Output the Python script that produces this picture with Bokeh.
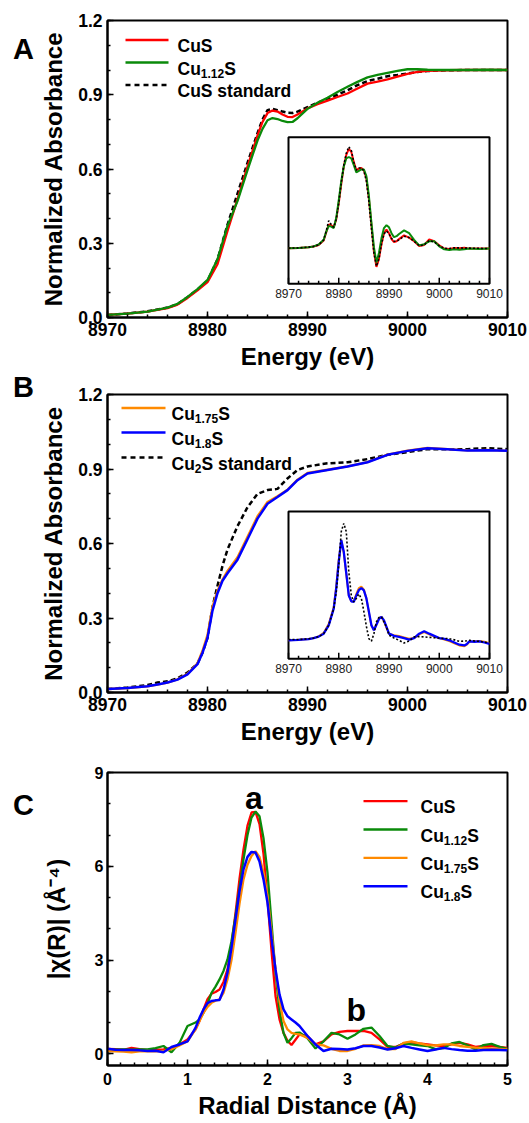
from bokeh.plotting import figure
from bokeh.models import Range1d, FixedTicker, NumeralTickFormatter, Label
from bokeh.layouts import column, row
from bokeh.core.properties import value
from bokeh.embed import file_html
from bokeh.resources import INLINE

FONT = "Liberation Sans"

# ---------------- Panel A: XANES ----------------
energy_A = [8970, 8972, 8974, 8976, 8977, 8978, 8979, 8980, 8981, 8982,
            8983, 8984, 8985, 8985.5, 8986, 8986.5, 8987, 8987.5, 8988, 8988.5,
            8989, 8990, 8991, 8992, 8993, 8994, 8995, 8996, 8997, 8998,
            8999, 9000, 9001, 9002, 9004, 9006, 9008, 9010]
cus_A = [0.011, 0.016, 0.024, 0.038, 0.052, 0.079, 0.110, 0.143, 0.215, 0.350,
         0.478, 0.610, 0.735, 0.790, 0.826, 0.836, 0.832, 0.820, 0.811, 0.810,
         0.820, 0.845, 0.862, 0.876, 0.891, 0.905, 0.925, 0.945, 0.953, 0.962,
         0.973, 0.984, 0.992, 0.997, 0.999, 1.0, 1.0, 1.0]
cu112s_A = [0.011, 0.016, 0.024, 0.040, 0.055, 0.083, 0.115, 0.152, 0.235, 0.370,
            0.470, 0.595, 0.715, 0.762, 0.797, 0.806, 0.802, 0.794, 0.789, 0.790,
            0.805, 0.843, 0.868, 0.888, 0.911, 0.932, 0.952, 0.970, 0.980, 0.988,
            0.996, 1.003, 1.003, 1.001, 1.0, 1.0, 1.001, 1.0]
cus_std_A = [0.010, 0.016, 0.025, 0.040, 0.054, 0.082, 0.113, 0.148, 0.235, 0.375,
             0.500, 0.625, 0.745, 0.800, 0.838, 0.843, 0.838, 0.832, 0.827, 0.826,
             0.832, 0.850, 0.868, 0.884, 0.900, 0.918, 0.939, 0.955, 0.965, 0.975,
             0.980, 0.986, 0.992, 0.996, 0.999, 1.0, 1.0, 1.0]

# inset A (derivative, arbitrary units)
energy_dA = [8970, 8972, 8974, 8975, 8976, 8977, 8977.5, 8978, 8978.5, 8979,
             8979.5, 8980, 8980.5, 8981, 8981.5, 8982, 8982.5, 8983, 8983.5, 8984,
             8984.5, 8985, 8985.5, 8986, 8986.5, 8987, 8987.5, 8988, 8988.5, 8989,
             8989.5, 8990, 8990.5, 8991, 8991.5, 8992, 8993, 8994, 8995, 8996,
             8997, 8998, 8999, 9000, 9001, 9002, 9003, 9004, 9005, 9006, 9008, 9010]
cus_dA = [0.243, 0.245, 0.25, 0.255, 0.265, 0.295, 0.35, 0.405, 0.40, 0.385,
          0.44, 0.55, 0.68, 0.80, 0.88, 0.92, 0.90, 0.83, 0.775, 0.785,
          0.79, 0.775, 0.72, 0.58, 0.40, 0.22, 0.115, 0.17, 0.27, 0.345,
          0.37, 0.345, 0.305, 0.284, 0.29, 0.305, 0.33, 0.315, 0.29, 0.258,
          0.265, 0.303, 0.29, 0.262, 0.24, 0.238, 0.245, 0.242, 0.246, 0.24, 0.24, 0.24]
cu112s_dA = [0.243, 0.245, 0.25, 0.255, 0.268, 0.30, 0.355, 0.395, 0.39, 0.38,
             0.45, 0.57, 0.70, 0.80, 0.855, 0.865, 0.855, 0.81, 0.76, 0.77,
             0.78, 0.78, 0.735, 0.60, 0.42, 0.25, 0.145, 0.21, 0.31, 0.38,
             0.40, 0.385, 0.345, 0.318, 0.325, 0.34, 0.364, 0.345, 0.30, 0.262,
             0.27, 0.29, 0.29, 0.255, 0.235, 0.23, 0.235, 0.232, 0.236, 0.24, 0.238, 0.24]
cus_std_dA = [0.243, 0.245, 0.25, 0.255, 0.265, 0.30, 0.36, 0.43, 0.405, 0.385,
              0.44, 0.55, 0.69, 0.81, 0.89, 0.935, 0.91, 0.83, 0.775, 0.79,
              0.79, 0.77, 0.70, 0.56, 0.38, 0.21, 0.12, 0.17, 0.27, 0.34,
              0.36, 0.34, 0.31, 0.29, 0.29, 0.30, 0.325, 0.315, 0.29, 0.26,
              0.265, 0.295, 0.285, 0.26, 0.242, 0.24, 0.245, 0.245, 0.243, 0.243, 0.242, 0.24]

# ---------------- Panel B: XANES ----------------
energy_B = [8970, 8972, 8974, 8975, 8976, 8977, 8978, 8979, 8979.5, 8980,
            8980.5, 8981, 8981.5, 8982, 8983, 8984, 8985, 8986, 8987, 8988,
            8989, 8990, 8992, 8994, 8996, 8998, 9000, 9002, 9004, 9006, 9008, 9010]
cu18s_B = [0.014, 0.018, 0.025, 0.032, 0.040, 0.052, 0.073, 0.114, 0.16, 0.22,
           0.33, 0.40, 0.45, 0.48, 0.535, 0.617, 0.70, 0.76, 0.787, 0.815,
           0.855, 0.882, 0.896, 0.91, 0.927, 0.957, 0.973, 0.984, 0.98, 0.974, 0.976, 0.973]
cu175s_B = [0.014, 0.018, 0.025, 0.032, 0.040, 0.053, 0.075, 0.118, 0.168, 0.232,
            0.345, 0.41, 0.455, 0.49, 0.545, 0.627, 0.71, 0.767, 0.79, 0.817,
            0.857, 0.884, 0.897, 0.911, 0.928, 0.958, 0.974, 0.985, 0.98, 0.975, 0.977, 0.973]
cu2s_std_B = [0.014, 0.02, 0.03, 0.04, 0.045, 0.057, 0.08, 0.117, 0.16, 0.22,
              0.345, 0.43, 0.51, 0.576, 0.67, 0.746, 0.80, 0.815, 0.82, 0.862,
              0.896, 0.91, 0.923, 0.927, 0.94, 0.957, 0.968, 0.98, 0.98, 0.98, 0.984, 0.98]

energy_dB = [8970, 8972, 8974, 8975, 8976, 8977, 8978, 8979, 8979.5, 8980,
             8980.5, 8981, 8981.5, 8982, 8982.5, 8983, 8983.5, 8984, 8984.5, 8985,
             8985.5, 8986, 8986.5, 8987, 8987.5, 8988, 8988.5, 8989, 8989.5, 8990,
             8991, 8992, 8993, 8994, 8995, 8996, 8997, 8998, 8999, 9000,
             9001, 9002, 9003, 9004, 9005, 9005.5, 9006, 9007, 9008, 9009, 9010]
cu18s_dB = [0.125, 0.128, 0.133, 0.14, 0.15, 0.17, 0.227, 0.34, 0.48, 0.66,
            0.807, 0.727, 0.58, 0.43, 0.39, 0.386, 0.43, 0.466, 0.48, 0.465,
            0.41, 0.32, 0.227, 0.193, 0.23, 0.27, 0.284, 0.26, 0.216, 0.17,
            0.155, 0.148, 0.14, 0.13, 0.14, 0.17, 0.186, 0.17, 0.155, 0.14,
            0.135, 0.125, 0.11, 0.095, 0.09, 0.10, 0.118, 0.115, 0.118, 0.11, 0.10]
cu175s_dB = [0.125, 0.128, 0.133, 0.14, 0.152, 0.175, 0.235, 0.35, 0.49, 0.67,
             0.80, 0.72, 0.575, 0.43, 0.39, 0.39, 0.44, 0.48, 0.49, 0.47,
             0.41, 0.315, 0.225, 0.195, 0.235, 0.275, 0.285, 0.255, 0.21, 0.17,
             0.16, 0.155, 0.145, 0.135, 0.14, 0.165, 0.18, 0.165, 0.15, 0.14,
             0.13, 0.12, 0.105, 0.09, 0.085, 0.095, 0.115, 0.118, 0.12, 0.115, 0.105]
cu2s_std_dB = [0.13, 0.13, 0.135, 0.14, 0.15, 0.17, 0.227, 0.34, 0.45, 0.636,
               0.864, 0.92, 0.864, 0.59, 0.43, 0.386, 0.41, 0.44, 0.41, 0.32,
               0.22, 0.136, 0.118, 0.17, 0.25, 0.28, 0.284, 0.25, 0.216, 0.16,
               0.14, 0.125, 0.107, 0.12, 0.148, 0.15, 0.148, 0.145, 0.142, 0.14,
               0.138, 0.136, 0.128, 0.118, 0.12, 0.122, 0.125, 0.12, 0.118, 0.112, 0.107]

# ---------------- Panel C: EXAFS |chi(R)| ----------------
radial_C = [0.0, 0.1, 0.2, 0.3, 0.4, 0.5, 0.6, 0.7, 0.8, 0.9, 1.0,
            1.1, 1.15, 1.2, 1.25, 1.3, 1.35, 1.4, 1.45, 1.5, 1.55, 1.6, 1.65, 1.7, 1.75,
            1.8, 1.85, 1.9, 1.95, 2.0, 2.05, 2.1, 2.15, 2.2, 2.25, 2.3, 2.35, 2.4,
            2.5, 2.6, 2.7, 2.8, 2.9, 3.0, 3.1, 3.2, 3.3, 3.4, 3.5, 3.6, 3.7, 3.8, 3.9,
            4.0, 4.1, 4.2, 4.3, 4.4, 4.5, 4.6, 4.7, 4.8, 4.9, 5.0]
cus_C = [0.16, 0.15, 0.13, 0.19, 0.15, 0.12, 0.13, 0.14, 0.19, 0.30, 0.46,
         0.78, 1.05, 1.42, 1.75, 1.92, 1.98, 2.06, 2.3, 2.7, 3.5, 4.5, 5.6, 6.54, 7.3,
         7.72, 7.74, 7.35, 6.4, 4.94, 3.3, 1.85, 1.1, 0.67, 0.42, 0.28, 0.45, 0.62,
         0.57, 0.30, 0.40, 0.62, 0.70, 0.73, 0.73, 0.73, 0.67, 0.46, 0.22, 0.22, 0.33, 0.37, 0.33,
         0.30, 0.27, 0.25, 0.30, 0.35, 0.30, 0.22, 0.25, 0.25, 0.22, 0.19]
cu112s_C = [0.12, 0.13, 0.14, 0.13, 0.14, 0.14, 0.18, 0.25, 0.05, 0.35, 0.89,
            1.0, 1.1, 1.31, 1.6, 1.95, 2.15, 2.38, 2.65, 3.02, 3.6, 4.4, 5.3, 6.22, 7.0,
            7.56, 7.75, 7.6, 6.9, 5.8, 4.2, 2.6, 1.4, 0.67, 0.35, 0.5, 0.67, 0.68,
            0.5, 0.17, 0.40, 0.67, 0.62, 0.48, 0.62, 0.80, 0.84, 0.57, 0.25, 0.20, 0.33, 0.30, 0.27,
            0.25, 0.15, 0.18, 0.33, 0.38, 0.27, 0.14, 0.28, 0.32, 0.22, 0.16]
cu175s_C = [0.09, 0.08, 0.07, 0.05, 0.08, 0.09, 0.08, 0.09, 0.15, 0.27, 0.40,
            0.78, 1.05, 1.31, 1.5, 1.63, 1.7, 1.74, 1.95, 2.38, 3.0, 3.87, 4.8, 5.58, 6.05,
            6.33, 6.48, 6.3, 5.8, 5.05, 3.9, 2.7, 1.7, 1.05, 0.78, 0.67, 0.64, 0.62,
            0.51, 0.30, 0.27, 0.16, 0.09, 0.09, 0.16, 0.27, 0.28, 0.25, 0.15, 0.15, 0.35, 0.40, 0.33,
            0.28, 0.27, 0.30, 0.30, 0.25, 0.22, 0.20, 0.19, 0.17, 0.16, 0.14]
cu18s_C = [0.16, 0.13, 0.12, 0.12, 0.11, 0.09, 0.10, 0.05, 0.22, 0.30, 0.40,
           0.83, 1.15, 1.42, 1.62, 1.69, 1.71, 1.72, 2.05, 2.6, 3.4, 4.3, 5.2, 5.9, 6.3,
           6.46, 6.44, 6.15, 5.58, 4.84, 3.7, 2.7, 1.9, 1.42, 1.2, 1.1, 1.0, 0.89,
           0.57, 0.30, 0.09, 0.16, 0.15, 0.14, 0.18, 0.25, 0.25, 0.20, 0.14, 0.18, 0.25, 0.19, 0.14,
           0.09, 0.14, 0.19, 0.15, 0.12, 0.10, 0.10, 0.12, 0.13, 0.12, 0.11]

# tick values
energy_ticks = [8970, 8980, 8990, 9000, 9010]
absorb_ticks = [0.0, 0.3, 0.6, 0.9, 1.2]
radial_ticks = [0, 1, 2, 3, 4, 5]
chi_ticks = [0, 3, 6, 9]
panel_letters = ["A", "B", "C"]

RED, GREEN, ORANGE, BLUE = "#ff0000", "#0a8a0a", "#ff8a00", "#0000ff"
LINE_W = 2.3

# ---------------- layout constants ----------------
LW = 36                     # width of the panel-letter strip
FL, FW = 107, 400           # frame left (window px) and width
INS_L, INS_R, INS_B, INS_T = 0.4525, 0.955, 0.1135, 0.607   # inset box as fractions of frame
HEIGHTS = [374, 378, 371]
LETTER_BASELINES = [48, 386, 804]   # window px

BOLD_W = {"C": 722, "u": 611, "S": 667, " ": 278, "s": 556, "t": 333, "a": 556,
          "n": 611, "d": 611, "r": 389, ".": 278}


def tw(s, size):
    return sum(BOLD_W.get(c, 556) for c in s) / 1000.0 * size


class Geo:
    def __init__(self, x0, x1, y0, y1, top, h):
        self.x0, self.x1, self.y0, self.y1, self.top, self.h = x0, x1, y0, y1, top, h

    def dx(self, px):
        return self.x0 + (px - FL) / FW * (self.x1 - self.x0)

    def dy(self, py):
        return self.y1 - (py - self.top) / self.h * (self.y1 - self.y0)


def make_fig(g, bottom_border, tick_size):
    p = figure(frame_width=FW, frame_height=g.h,
               x_range=Range1d(g.x0, g.x1), y_range=Range1d(g.y0, g.y1),
               min_border_left=FL - LW, min_border_right=529 - FL - FW,
               min_border_top=20, min_border_bottom=bottom_border,
               title_location=None,
               output_backend="svg", toolbar_location=None)
    p.xgrid.visible = False
    p.ygrid.visible = False
    p.outline_line_color = "black"
    p.outline_line_width = 2
    p.outline_line_alpha = 1
    for ax in (p.xaxis[0], p.yaxis[0]):
        ax.axis_line_width = 2
        ax.axis_line_color = "black"
        ax.major_tick_in = 6
        ax.major_tick_out = 0
        ax.minor_tick_in = 3
        ax.minor_tick_out = 0
        ax.major_tick_line_width = 1.5
        ax.minor_tick_line_width = 1.5
        ax.major_tick_line_color = "black"
        ax.minor_tick_line_color = "black"
        ax.major_label_text_font = FONT
        ax.major_label_text_font_style = "bold"
        ax.major_label_text_font_size = tick_size
        ax.major_label_text_color = "black"
        ax.axis_label_text_font = FONT
        ax.axis_label_text_font_style = "bold"
        ax.axis_label_text_font_size = "24px"
        ax.axis_label_text_color = "black"
    return p


def letter_strip():
    total = sum(HEIGHTS)
    q = figure(width=LW, height=total, x_range=Range1d(0, LW), y_range=Range1d(total, 0),
               min_border=0, x_axis_location=None, y_axis_location=None,
               title_location=None,
               output_backend="svg", toolbar_location=None)
    if hasattr(q, "frame_align"):
        q.frame_align = False
    q.xgrid.visible = False
    q.ygrid.visible = False
    q.outline_line_color = None
    q.text(x=[12.5] * len(panel_letters), y=LETTER_BASELINES, text=panel_letters,
           text_font=value(FONT), text_font_size="29px", text_font_style="bold",
           text_color="black", text_baseline="alphabetic", text_align="left")
    return q


def label(p, x, y, text, size, style="bold", align="left", baseline="alphabetic",
          color="black", **kw):
    p.add_layout(Label(x=x, y=y, text=text, text_font=FONT, text_font_size=size,
                       text_font_style=style, text_align=align, text_baseline=baseline,
                       text_color=color, **kw))


def rich(p, g, px, py, parts, size=17.5, sub=12.0, sub_drop=4.5):
    for txt, is_sub in parts:
        if is_sub:
            label(p, g.dx(px), g.dy(py + sub_drop), txt, f"{sub}px")
            px += tw(txt, sub)
        else:
            label(p, g.dx(px), g.dy(py), txt, f"{size}px")
            px += tw(txt, size)


def legend(p, g, x_line0, x_line1, x_text, rows):
    for (py, color, dash, width, parts) in rows:
        p.line([g.dx(x_line0), g.dx(x_line1)], [g.dy(py - 6), g.dy(py - 6)],
               line_color=color, line_width=width, line_dash=dash)
        rich(p, g, x_text, py, parts)


def add_inset(p, series):
    sx = 40.0 / (INS_R - INS_L)
    xs = 8970 - INS_L * sx
    sy = 1.0 / (INS_T - INS_B)
    ys = -INS_B * sy
    p.extra_x_ranges = {"ins": Range1d(xs, xs + sx)}
    p.extra_y_ranges = {"insy": Range1d(ys, ys + sy)}
    p.quad(left=[8970], right=[9010], bottom=[0], top=[1], x_range_name="ins",
           y_range_name="insy", fill_color="white", line_color="black", line_width=2)
    for (xv, yv, color, dash, width) in series:
        p.line(xv, yv, x_range_name="ins", y_range_name="insy", line_color=color,
               line_width=width, line_dash=dash)
    return sy


def inset_axis(p, g, sy):
    unit = sy / g.h   # inset units per pixel
    major = list(range(8970, 9011, 10))
    minor = [v for v in range(8970, 9011, 2) if v % 10 != 0]
    p.segment(x0=major, y0=[0] * len(major), x1=major, y1=[6 * unit] * len(major),
              x_range_name="ins", y_range_name="insy", line_color="black", line_width=1.5)
    p.segment(x0=minor, y0=[0] * len(minor), x1=minor, y1=[3 * unit] * len(minor),
              x_range_name="ins", y_range_name="insy", line_color="black", line_width=1.5)
    for v in major:
        p.add_layout(Label(x=v, y=-10 * unit, text=str(v), x_range_name="ins",
                           y_range_name="insy", text_font=FONT, text_font_size="12px",
                           text_align="center", text_baseline="middle",
                           text_color="#222222"))


def xanes_axes(p):
    p.xaxis[0].ticker = FixedTicker(ticks=energy_ticks,
                                    minor_ticks=list(range(8970, 9011, 2)))
    p.yaxis[0].ticker = FixedTicker(ticks=absorb_ticks,
                                    minor_ticks=[i / 10 for i in range(0, 13)])
    p.xaxis[0].formatter = NumeralTickFormatter(format="0")
    p.yaxis[0].formatter = NumeralTickFormatter(format="0.0")
    p.xaxis[0].axis_label = "Energy (eV)"
    p.yaxis[0].axis_label = "Normalized Absorbance"
    p.xaxis[0].major_label_standoff = 5
    p.yaxis[0].major_label_standoff = 5
    p.xaxis[0].axis_label_standoff = 4
    p.yaxis[0].axis_label_standoff = 8


# ================= Panel A =================
gA = Geo(8970, 9010, 0.0, 1.2, 20, 297)
pA = make_fig(gA, HEIGHTS[0] - 20 - 297, "17.5px")
xanes_axes(pA)
pA.line(energy_A, cus_std_A, line_color="black", line_width=2.5, line_dash="5 3")
pA.line(energy_A, cus_A, line_color=RED, line_width=LINE_W)
pA.line(energy_A, cu112s_A, line_color=GREEN, line_width=LINE_W)
syA = add_inset(pA, [(energy_dA, cus_dA, RED, "solid", 2),
                     (energy_dA, cu112s_dA, GREEN, "solid", 2),
                     (energy_dA, cus_std_dA, "black", "2 2", 1.6)])
inset_axis(pA, gA, syA)
legend(pA, gA, 125, 168, 177, [
    (45.5, RED, "solid", LINE_W, [("CuS", False)]),
    (68, GREEN, "solid", LINE_W, [("Cu", False), ("1.12", True), ("S", False)]),
    (90.5, "black", "5 4", 2.5, [("CuS standard", False)]),
])

# ================= Panel B =================
gB = Geo(8970, 9010, 0.0, 1.2, 20, 298)
pB = make_fig(gB, HEIGHTS[1] - 20 - 298, "17.5px")
xanes_axes(pB)
pB.line(energy_B, cu2s_std_B, line_color="black", line_width=2.5, line_dash="5 3")
pB.line(energy_B, cu175s_B, line_color=ORANGE, line_width=LINE_W)
pB.line(energy_B, cu18s_B, line_color=BLUE, line_width=2.5)
syB = add_inset(pB, [(energy_dB, cu175s_dB, ORANGE, "solid", 2),
                     (energy_dB, cu18s_dB, BLUE, "solid", 2.3),
                     (energy_dB, cu2s_std_dB, "black", "2 2", 1.6)])
inset_axis(pB, gB, syB)
legend(pB, gB, 121, 165, 171, [
    (39.5, ORANGE, "solid", LINE_W, [("Cu", False), ("1.75", True), ("S", False)]),
    (64, BLUE, "solid", 2.5, [("Cu", False), ("1.8", True), ("S", False)]),
    (89, "black", "5 4", 2.5, [("Cu", False), ("2", True), ("S standard", False)]),
])

# ================= Panel C =================
gC = Geo(0, 5, -0.374, 9, 20, 293)
pC = make_fig(gC, HEIGHTS[2] - 20 - 293, "16px")
pC.xaxis[0].ticker = FixedTicker(ticks=radial_ticks,
                                 minor_ticks=[k / 6 for k in range(0, 31)])
pC.yaxis[0].ticker = FixedTicker(ticks=chi_ticks, minor_ticks=list(range(0, 10)))
pC.xaxis[0].formatter = NumeralTickFormatter(format="0")
pC.yaxis[0].formatter = NumeralTickFormatter(format="0")
pC.xaxis[0].axis_label = "Radial Distance (Å)"
pC.yaxis[0].axis_label = "|χ(R)| (Å⁻⁴)"
pC.xaxis[0].major_label_standoff = 7
pC.yaxis[0].major_label_standoff = 4
pC.xaxis[0].axis_label_standoff = 4
pC.yaxis[0].axis_label_standoff = 22
pC.line(radial_C, cus_C, line_color=RED, line_width=LINE_W)
pC.line(radial_C, cu112s_C, line_color=GREEN, line_width=LINE_W)
pC.line(radial_C, cu175s_C, line_color=ORANGE, line_width=LINE_W)
pC.line(radial_C, cu18s_C, line_color=BLUE, line_width=2.5)
legend(pC, gC, 363, 407, 420, [
    (54.7, RED, "solid", LINE_W, [("CuS", False)]),
    (83, GREEN, "solid", LINE_W, [("Cu", False), ("1.12", True), ("S", False)]),
    (111.3, ORANGE, "solid", LINE_W, [("Cu", False), ("1.75", True), ("S", False)]),
    (139.7, BLUE, "solid", 2.5, [("Cu", False), ("1.8", True), ("S", False)]),
])
label(pC, 1.83, 8.2, "a", "32px", align="center")
label(pC, 3.11, 1.4, "b", "32px", align="center")

# ================= assemble =================
layout = row(letter_strip(), column(pA, pB, pC, spacing=0), spacing=0)
open("out.html", "w").write(file_html(layout, INLINE))
